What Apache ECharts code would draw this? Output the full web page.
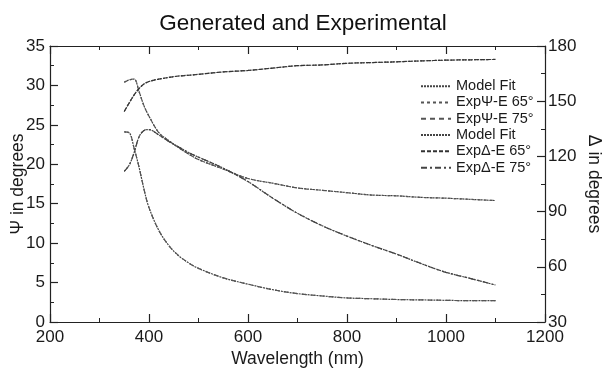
<!DOCTYPE html>
<html>
<head>
<meta charset="utf-8">
<title>Generated and Experimental</title>
<script src="https://cdn.jsdelivr.net/npm/echarts/dist/echarts.min.js"></script>
<style>
    html, body { margin: 0; padding: 0; background: #fff; }
    #chart { width: 602px; height: 369px; }
</style>
</head>
<body>
<div id="chart"></div>
<script>
// 波长 (nm)
var wavelength = [350, 360, 370, 380, 390, 400, 420, 440, 460, 480, 500, 550,
    600, 650, 700, 750, 800, 850, 900, 950, 1000, 1050, 1100];
// Ψ (左轴, degrees)
var psi65 = [30.4, 30.7, 30.8, 29.2, 27.4, 26.1, 24.0, 23.0, 22.1, 21.3, 20.6, 19.4,
    18.2, 17.6, 17.0, 16.7, 16.4, 16.1, 16.0, 15.8, 15.7, 15.55, 15.4];
var psi75 = [24.1, 24.0, 22.0, 19.6, 16.8, 14.5, 11.6, 9.7, 8.4, 7.5, 6.8, 5.6,
    4.8, 4.1, 3.6, 3.3, 3.05, 2.95, 2.85, 2.8, 2.75, 2.7, 2.7];
// Δ (右轴, degrees)
var delta65 = [144.4, 149.1, 153.4, 156.9, 159.4, 160.7, 162.0, 162.9, 163.7, 164.1, 164.6, 165.9,
    166.7, 168.0, 169.3, 169.7, 170.6, 171.0, 171.4, 171.9, 172.3, 172.5, 172.7];
var delta75 = [111.9, 115.3, 122.1, 130.7, 134.1, 134.6, 131.6, 128.1, 125.1, 122.1, 119.6, 113.6,
    106.3, 97.3, 89.1, 82.3, 76.7, 71.6, 66.9, 61.7, 57.0, 53.6, 50.1];
// 坐标轴刻度
var xTicks = {min: 200, max: 1200, interval: 200};
var psiTicks = {min: 0, max: 35, interval: 5};
var deltaTicks = {min: 30, max: 180, interval: 30};

var legendNames = ['Model Fit', 'ExpΨ-E 65°', 'ExpΨ-E 75°', 'Model Fit ', 'ExpΔ-E 65°', 'ExpΔ-E 75°'];

function pairs(values) {
    return wavelength.map(function (w, i) {
        return [w, values[i]];
    });
}

function makeSeries(name, values, yIndex, dash, color, width) {
    return {
        name: name,
        type: 'line',
        yAxisIndex: yIndex,
        data: pairs(values),
        smooth: 0.35,
        symbol: 'none',
        lineStyle: {color: color, width: width, type: dash},
        itemStyle: {color: color},
        z: 2
    };
}

var fontFamily = 'Arial, "Liberation Sans", sans-serif';
var tickFont = {fontSize: 17, color: '#1a1a1a', fontFamily: fontFamily};
var nameFont = {fontSize: 17.5, color: '#1a1a1a', fontFamily: fontFamily};
var axisColor = '#222';

function baseAxis() {
    return {
        axisLine: {show: true, onZero: false, lineStyle: {color: axisColor, width: 1.2}},
        axisTick: {show: true, inside: true, length: 8, lineStyle: {color: axisColor, width: 1.2}},
        minorTick: {show: true, splitNumber: 2, length: 4, lineStyle: {color: axisColor, width: 1}},
        splitLine: {show: false},
        minorSplitLine: {show: false}
    };
}

var xBottom = Object.assign(baseAxis(), {
    type: 'value', position: 'bottom',
    min: xTicks.min, max: xTicks.max, interval: xTicks.interval,
    axisLabel: Object.assign({margin: 7, formatter: function (v) { return String(v); }}, tickFont),
    name: 'Wavelength (nm)', nameLocation: 'middle', nameGap: 28, nameMoveOverlap: false,
    nameTextStyle: nameFont
});
var xTop = Object.assign(baseAxis(), {
    type: 'value', position: 'top',
    min: xTicks.min, max: xTicks.max, interval: xTicks.interval,
    axisLabel: {show: false}
});
var yLeft = Object.assign(baseAxis(), {
    type: 'value', position: 'left',
    min: psiTicks.min, max: psiTicks.max, interval: psiTicks.interval,
    axisLabel: Object.assign({margin: 5}, tickFont),
    name: 'Ψ in degrees', nameLocation: 'middle', nameGap: 23, nameRotate: 90, nameMoveOverlap: false,
    nameTextStyle: nameFont
});
var yRight = Object.assign(baseAxis(), {
    type: 'value', position: 'right',
    min: deltaTicks.min, max: deltaTicks.max, interval: deltaTicks.interval,
    axisLabel: Object.assign({margin: 3}, tickFont),
    name: 'Δ in degrees', nameLocation: 'middle', nameGap: 40, nameRotate: -90, nameMoveOverlap: false,
    nameTextStyle: nameFont
});

var option = {
    backgroundColor: '#fff',
    animation: false,
    title: {
        text: 'Generated and Experimental',
        left: 298,
        textAlign: 'center',
        top: 7,
        textStyle: {fontSize: 22.5, fontWeight: 'normal', color: '#111', fontFamily: fontFamily}
    },
    legend: {
        data: legendNames,
        orient: 'vertical',
        left: 420,
        top: 78,
        padding: 0,
        itemWidth: 30,
        itemHeight: 10,
        itemGap: 0,
        itemStyle: {opacity: 0},
        textStyle: {fontSize: 14.5, lineHeight: 16.3, color: '#1a1a1a', fontFamily: fontFamily}
    },
    grid: {left: 50, right: 57, top: 46, bottom: 47, containLabel: false, outerBoundsMode: 'none'},
    xAxis: [xBottom, xTop],
    yAxis: [yLeft, yRight],
    series: [
        makeSeries('Model Fit', psi65, 0, [2, 1], '#444', 1.2),
        makeSeries('Model Fit', psi75, 0, [2, 1], '#444', 1.2),
        makeSeries('ExpΨ-E 65°', psi65, 0, [3, 3], '#555', 1.2),
        makeSeries('ExpΨ-E 75°', psi75, 0, [5, 4], '#555', 1.2),
        makeSeries('Model Fit ', delta65, 1, [2, 1], '#444', 1.2),
        makeSeries('Model Fit ', delta75, 1, [2, 1], '#444', 1.2),
        makeSeries('ExpΔ-E 65°', delta65, 1, [4, 2], '#333', 1.2),
        makeSeries('ExpΔ-E 75°', delta75, 1, [6, 3, 2, 3], '#444', 1.2)
    ]
};

var mychart = echarts.init(document.getElementById('chart'), null, {renderer: 'canvas'});
mychart.setOption(option);
</script>
</body>
</html>
